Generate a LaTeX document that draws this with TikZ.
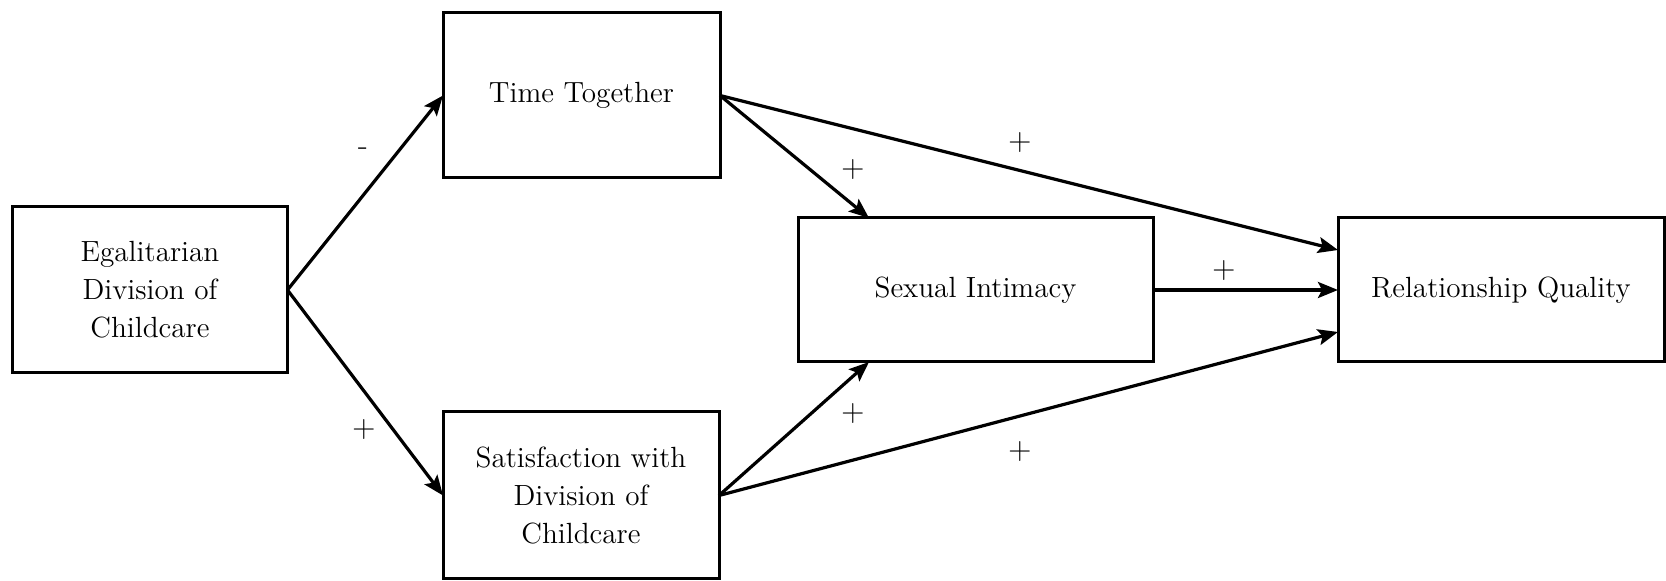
\documentclass[tikz,border=0pt]{standalone}
\usetikzlibrary{arrows.meta,calc}
\begin{document}
\begin{tikzpicture}[x=0.5pt,y=-0.5pt,
  box/.style={draw,line width=1.5pt,inner sep=0pt,outer sep=0pt,align=center,font=\fontsize{14.6}{19}\selectfont},
  arr/.style={-{Stealth[length=10pt,width=8pt,inset=2pt]},line width=1.6pt},
  sign/.style={font=\fontsize{16}{18}\selectfont,inner sep=0pt}]
\useasboundingbox (0,0) rectangle (1666,581);
\node[box,minimum width=137.5pt,minimum height=83pt] (eg) at (150,290) {Egalitarian\\Division of\\Childcare};
\node[box,minimum width=138.5pt,minimum height=82.5pt] (tt) at (581.5,95.5) {Time Together};
\node[box,minimum width=138pt,minimum height=83.5pt] (sat) at (581,495.5) {Satisfaction with\\Division of\\Childcare};
\node[box,minimum width=177.5pt,minimum height=72pt] (si) at (975.5,290) {Sexual Intimacy};
\node[box,minimum width=163pt,minimum height=72pt] (rq) at (1501,290) {Relationship Quality};
\draw[arr] (eg.east) -- (tt.west);
\draw[arr] (eg.east) -- (sat.west);
\draw[arr] (tt.east) -- ($(si.north west)!0.2!(si.north east)$);
\draw[arr] (sat.east) -- ($(si.south west)!0.2!(si.south east)$);
\draw[arr] (tt.east) -- ([yshift=20pt]rq.west);
\draw[arr] (sat.east) -- ([yshift=-21pt]rq.west);
\draw[arr] (si.east) -- (rq.west);
\node[sign] (s1) at (363,152) {-};
\node[sign] (s2) at (364,430) {+};
\node[sign] (s3) at (853,170) {+};
\node[sign] (s4) at (1020,143) {+};
\node[sign] (s5) at (1224,271) {+};
\node[sign] (s6) at (853,414) {+};
\node[sign] (s7) at (1020,452) {+};
\end{tikzpicture}
\end{document}
